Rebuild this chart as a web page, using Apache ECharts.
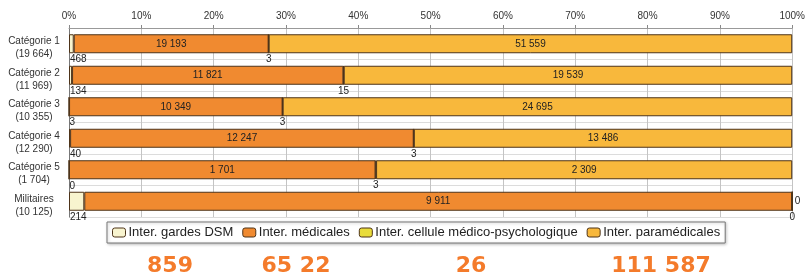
<!DOCTYPE html>
<html>
<head>
<meta charset="utf-8">
<script src="https://cdn.jsdelivr.net/npm/echarts@6/dist/echarts.min.js"></script>
<style>
html,body{margin:0;padding:0;background:#fff;}
#c{width:808px;height:277px;}
</style>
</head>
<body>
<div id="c"></div>
<script>
const categories = ['Catégorie 1','Catégorie 2','Catégorie 3','Catégorie 4','Catégorie 5','Militaires'];
const categoryCounts = [19664, 11969, 10355, 12290, 1704, 10125];
const seriesNames = ['Inter. gardes DSM','Inter. médicales','Inter. cellule médico-psychologique','Inter. paramédicales'];
const gardesDSM = [468, 134, 3, 40, 0, 214];
const medicales = [19193, 11821, 10349, 12247, 1701, 9911];
const cellule = [3, 15, 3, 3, 3, 0];
const paramedicales = [51559, 19539, 24695, 13486, 2309, 0];
const xTickLabels = ['0%','10%','20%','30%','40%','50%','60%','70%','80%','90%','100%'];
const totalsText = ['859','65 22','26','111 587'];

const fmt = v => String(v).replace(/\B(?=(\d{3})+(?!\d))/g, ' ');
const rowTotals = categories.map((_, i) => gardesDSM[i] + medicales[i] + cellule[i] + paramedicales[i]);
const pct = arr => arr.map((v, i) => v / rowTotals[i] * 100);

const colors = ['#f8f4cf', '#f08a30', '#e9dc3a', '#f8b83c'];
const border = {borderColor: '#4d3319', borderWidth: 1};
const lbl = {color: '#222', fontSize: 10, fontFamily: 'Liberation Sans'};

const raw = [gardesDSM, medicales, cellule, paramedicales];
function mkData(k, special) {
  return pct(raw[k]).map((p, i) => {
    const d = {value: p};
    if (special) { const s = special(raw[k][i], i); if (s) d.label = s; }
    return d;
  });
}

const chart = echarts.init(document.getElementById('c'), null, {renderer: 'canvas'});
chart.setOption({
  animation: false,
  backgroundColor: '#fff',
  color: colors,
  grid: {left: 69, right: 15, top: 28, height: 189},
  legend: {
    left: 107, top: 222,
    data: seriesNames,
    itemWidth: 13, itemHeight: 9, itemGap: 9,
    backgroundColor: '#fff', borderColor: '#777', borderWidth: 1,
    padding: [4, 5],
    shadowColor: 'rgba(0,0,0,0.25)', shadowBlur: 3, shadowOffsetX: 1, shadowOffsetY: 1,
    textStyle: {fontFamily: 'Liberation Sans', fontSize: 13, color: '#222', padding: [0, 0, 0, -2]},
    itemStyle: {borderColor: '#4d3319', borderWidth: 1}
  },
  xAxis: {
    type: 'value', position: 'top', min: 0, max: 100, interval: 10,
    axisLabel: {formatter: (v) => xTickLabels[Math.round(v / 10)], fontFamily: 'Liberation Sans', fontSize: 10, color: '#333', margin: 7},
    axisLine: {show: true, lineStyle: {color: '#999'}},
    axisTick: {show: true, length: 3, lineStyle: {color: '#888'}},
    splitLine: {show: true, lineStyle: {color: '#c4c4c4'}}
  },
  yAxis: {
    type: 'category', inverse: true, data: categories,
    axisLine: {show: true, lineStyle: {color: '#777'}},
    axisTick: {show: false},
    splitLine: {show: true, lineStyle: {color: '#dcdcdc'}},
    axisLabel: {
      interval: 0, showMinLabel: true, showMaxLabel: true, hideOverlap: false,
      formatter: (v, i) => '{c| }\n{a|' + v + '}\n{a|(' + fmt(categoryCounts[i]) + ')}',
      align: 'center', margin: 35,
      rich: {
        c: {fontSize: 6, lineHeight: 8},
        a: {fontFamily: 'Liberation Sans', fontSize: 10, color: '#333', lineHeight: 13, align: 'center'}
      }
    }
  },
  series: [
    {
      name: seriesNames[0], type: 'bar', stack: 't', barWidth: 19,
      itemStyle: border,
      label: Object.assign({show: true, position: [1, '100%'], align: 'left', verticalAlign: 'top', padding: [1, 0, 0, 0],
        formatter: p => fmt(gardesDSM[p.dataIndex])}, lbl),
      data: mkData(0)
    },
    {
      name: seriesNames[1], type: 'bar', stack: 't', barWidth: 19,
      itemStyle: border,
      label: Object.assign({show: true, position: 'inside', formatter: p => fmt(medicales[p.dataIndex])}, lbl),
      data: mkData(1)
    },
    {
      name: seriesNames[2], type: 'bar', stack: 't', barWidth: 19,
      itemStyle: border,
      label: Object.assign({show: true, position: 'bottom', distance: 1, formatter: p => fmt(cellule[p.dataIndex])}, lbl),
      data: mkData(2)
    },
    {
      name: seriesNames[3], type: 'bar', stack: 't', barWidth: 19,
      itemStyle: border,
      label: Object.assign({show: true, position: 'inside', formatter: p => fmt(paramedicales[p.dataIndex])}, lbl),
      data: mkData(3, (v) => v === 0 ? {position: 'right', distance: 2} : null)
    }
  ],
  graphic: totalsText.map((t, i) => ({
    type: 'text',
    x: [170, 296, 471, 661][i], y: 266,
    style: {text: t, fill: '#f47b2b', font: 'bold 22px "DejaVu Sans"', textAlign: 'center', textVerticalAlign: 'middle'}
  }))
});
</script>
</body>
</html>
